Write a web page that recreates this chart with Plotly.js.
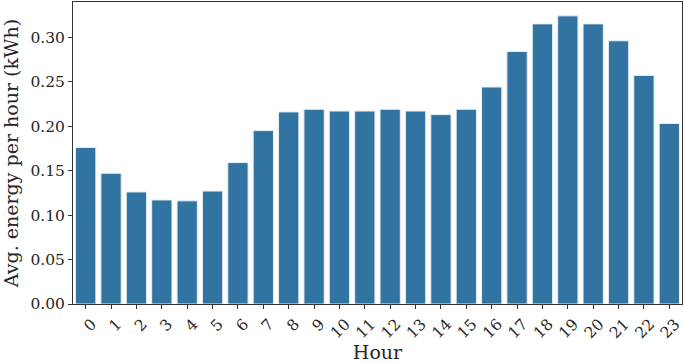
<!DOCTYPE html>
<html>
<head>
<meta charset="utf-8">
<script src="https://cdn.plot.ly/plotly-3.0.1.min.js"></script>
<style>html,body{margin:0;padding:0;background:#fff}#chart{width:685px;height:363px}</style>
</head>
<body>
<div id="chart"></div>
<script>
const hours = ["0","1","2","3","4","5","6","7","8","9","10","11","12","13","14","15","16","17","18","19","20","21","22","23"];
const avgEnergy = [0.176,0.147,0.126,0.117,0.116,0.127,0.159,0.195,0.216,0.219,0.217,0.217,0.219,0.217,0.213,0.219,0.244,0.284,0.315,0.324,0.315,0.296,0.257,0.203];
const yTicks = [0,0.05,0.10,0.15,0.20,0.25,0.30];
const yTickText = ["0.00","0.05","0.10","0.15","0.20","0.25","0.30"];

const font = "DejaVu Serif";
Plotly.newPlot("chart", [{
  type: "bar",
  x: hours,
  y: avgEnergy,
  marker: {color: "#3274a1", line: {color: "#e8eef5", width: 1}},
  hoverinfo: "skip"
}], {
  width: 685, height: 363,
  margin: {l: 73, r: 3, t: 2, b: 59},
  paper_bgcolor: "#fff", plot_bgcolor: "#fff",
  bargap: 0.2,
  showlegend: false,
  font: {family: font, color: "#262626", size: 15.5},
  xaxis: {
    type: "category",
    range: [-0.5, 23.5],
    tickangle: -45,
    ticklabelshift: 6,
    ticks: "outside", ticklen: 4, tickcolor: "#333",
    showline: true, linecolor: "#333", linewidth: 1, mirror: true,
    showgrid: false, zeroline: false,
    tickfont: {family: font, size: 15.5, color: "#262626"},
    title: {text: "Hour", font: {family: font, size: 19, color: "#262626"}, standoff: 4}
  },
  yaxis: {
    range: [0, 0.3396],
    tickvals: yTicks, ticktext: yTickText,
    ticks: "outside", ticklen: 4, tickcolor: "#333",
    showline: true, linecolor: "#333", linewidth: 1, mirror: true,
    showgrid: false, zeroline: false,
    tickfont: {family: font, size: 15.5, color: "#262626"},
    title: {text: "Avg. energy per hour (kWh)", font: {family: font, size: 19, color: "#262626"}, standoff: 6}
  }
}, {displayModeBar: false, staticPlot: true});
</script>
</body>
</html>
